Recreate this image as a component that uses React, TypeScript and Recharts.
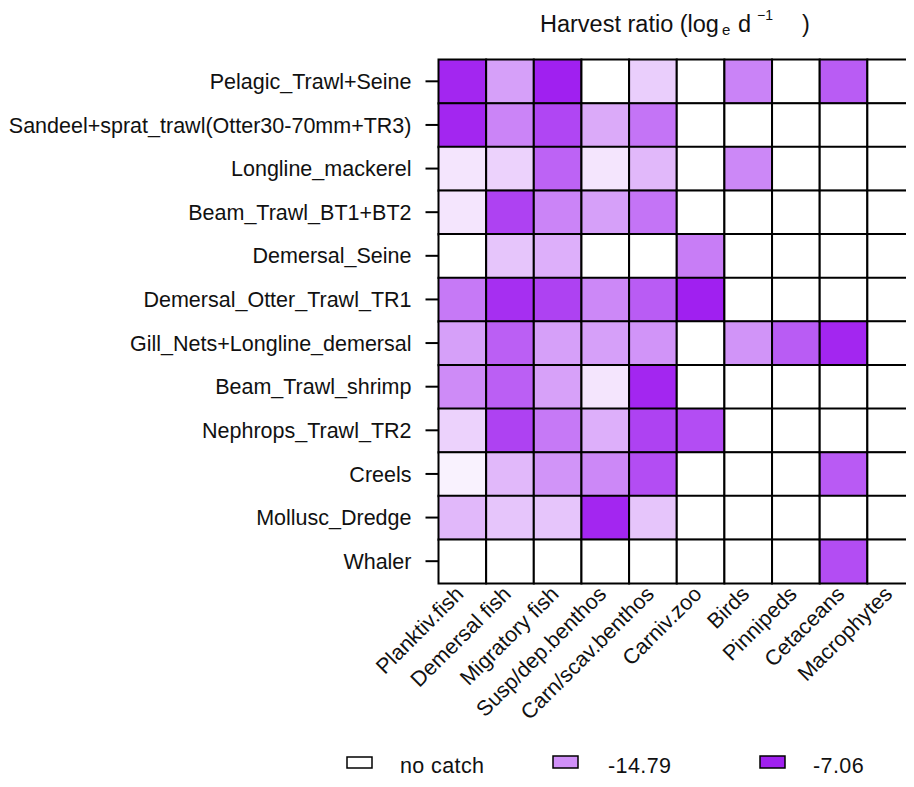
import React from 'react';
import { BarChart, Bar, XAxis, YAxis, Cell } from 'recharts';

// Harvest ratio (log_e d^-1); null = no catch
const gears = [
  'Pelagic_Trawl+Seine',
  'Sandeel+sprat_trawl(Otter30-70mm+TR3)',
  'Longline_mackerel',
  'Beam_Trawl_BT1+BT2',
  'Demersal_Seine',
  'Demersal_Otter_Trawl_TR1',
  'Gill_Nets+Longline_demersal',
  'Beam_Trawl_shrimp',
  'Nephrops_Trawl_TR2',
  'Creels',
  'Mollusc_Dredge',
  'Whaler',
];

const guilds = [
  'Planktiv.fish',
  'Demersal fish',
  'Migratory fish',
  'Susp/dep.benthos',
  'Carn/scav.benthos',
  'Carniv.zoo',
  'Birds',
  'Pinnipeds',
  'Cetaceans',
  'Macrophytes',
];

const pelagicTrawlSeine = [-7.5, -15.9, -7.06, null, -19.1, null, -13.9, null, -11.2, null];
const sandeelSpratTrawl = [-7.5, -14.0, -9.7, -16.6, -12.9, null, null, null, null, null];
const longlineMackerel = [-20.7, -19.4, -11.7, -20.7, -17.6, null, -14.3, null, null, null];
const beamTrawlBT = [-20.7, -9.4, -14.0, -15.9, -12.9, null, null, null, null, null];
const demersalSeine = [null, -18.5, -17.0, null, null, -13.5, null, null, null, null];
const demersalOtterTrawl = [-13.2, -8.1, -9.4, -14.3, -11.2, -7.06, null, null, null, null];
const gillNetsLongline = [-15.9, -11.4, -15.9, -15.9, -15.1, null, -15.1, -11.2, -7.5, null];
const beamTrawlShrimp = [-14.5, -11.4, -16.0, -20.7, -7.5, null, null, null, null, null];
const nephropsTrawl = [-19.4, -9.4, -13.2, -17.0, -9.4, -10.2, null, null, null, null];
const creels = [-21.6, -17.6, -15.1, -14.3, -10.2, null, null, null, -11.1, null];
const molluscDredge = [-17.6, -18.5, -18.5, -7.5, -18.5, null, null, null, null, null];
const whaler = [null, null, null, null, null, null, null, null, -10.2, null];

const matrix = [
  pelagicTrawlSeine, sandeelSpratTrawl, longlineMackerel, beamTrawlBT, demersalSeine,
  demersalOtterTrawl, gillNetsLongline, beamTrawlShrimp, nephropsTrawl, creels,
  molluscDredge, whaler,
];

const legendValues = [-14.79, -7.06];
const vMin = -22.52;
const vMax = -7.06;

function colorFor(v: number | null): string {
  if (v === null || v === undefined) return '#ffffff';
  let t = (v - vMin) / (vMax - vMin);
  t = Math.max(0, Math.min(1, t));
  const r = Math.round(255 - 95 * t);
  const g = Math.round(255 - 223 * t);
  const b = Math.round(255 - 15 * t);
  return `rgb(${r},${g},${b})`;
}

const data = gears.map((name) => {
  const row: any = { name };
  guilds.forEach((_, j) => {
    row[`c${j}`] = 1;
  });
  return row;
});

const FONT = '"Liberation Sans", Arial, sans-serif';
const FS = 21.5;

const XTick = (props: any) => {
  const { x, y, payload } = props;
  const idx = Math.floor(payload.value);
  return (
    <g transform={`translate(${x - 3},${y - 1})`}>
      <text transform="rotate(-45)" textAnchor="end" dy="0.35em" fontSize={FS} fontFamily={FONT} fill="#111">
        {guilds[idx]}
      </text>
    </g>
  );
};

export default function App() {
  return (
    <div style={{ position: 'relative', width: 906, height: 771, overflow: 'hidden', background: '#fff' }}>
      <BarChart
        width={920}
        height={771}
        data={data}
        layout="vertical"
        barCategoryGap={0}
        margin={{ top: 51.5, right: 13, bottom: 56, left: 0.5 }}
      >
        <XAxis
          type="number"
          domain={[0, 10]}
          ticks={[0.5, 1.5, 2.5, 3.5, 4.5, 5.5, 6.5, 7.5, 8.5, 9.5]}
          axisLine={false}
          tickLine={false}
          height={140}
          interval={0}
          tick={<XTick />}
        />
        <YAxis
          type="category"
          dataKey="name"
          width={430}
          tickSize={13}
          tickMargin={14}
          axisLine={false}
          tickLine={{ stroke: '#000', strokeWidth: 2 }}
          interval={0}
          tick={{ fontSize: FS, fontFamily: FONT, fill: '#111' }}
        />
        {guilds.map((g, j) => (
          <Bar key={g} dataKey={`c${j}`} stackId="a" isAnimationActive={false} stroke="#000" strokeWidth={2}>
            {gears.map((gear, i) => (
              <Cell key={gear} fill={colorFor(matrix[i][j])} />
            ))}
          </Bar>
        ))}
      </BarChart>
      <svg
        width={906}
        height={771}
        style={{ position: 'absolute', left: 0, top: 0, pointerEvents: 'none' }}
        fontFamily={FONT}
      >
        <text y={24} fontSize={23.5} fill="#111">
          <tspan x={532}>Harvest ratio (log</tspan>
          <tspan x={714} dy={3} fontSize={15}>e</tspan>
          <tspan x={730} dy={-3}>d</tspan>
          <tspan x={749} dy={-12} fontSize={14}>−1</tspan>
          <tspan x={794} dy={12}>)</tspan>
        </text>
        <rect x={339} y={749} width={25} height={11} fill="#fff" stroke="#000" strokeWidth={1.5} />
        <text x={392} y={765} fontSize={FS} letterSpacing={0.4} fill="#111">no catch</text>
        <rect x={545} y={748} width={25} height={12} fill={colorFor(legendValues[0])} stroke="#000" strokeWidth={1.5} />
        <text x={600} y={765} fontSize={FS} letterSpacing={0.4} fill="#111">{legendValues[0].toFixed(2)}</text>
        <rect x={752} y={748} width={25} height={12} fill={colorFor(legendValues[1])} stroke="#000" strokeWidth={1.5} />
        <text x={805} y={765} fontSize={FS} letterSpacing={0.4} fill="#111">{legendValues[1].toFixed(2)}</text>
      </svg>
    </div>
  );
}
